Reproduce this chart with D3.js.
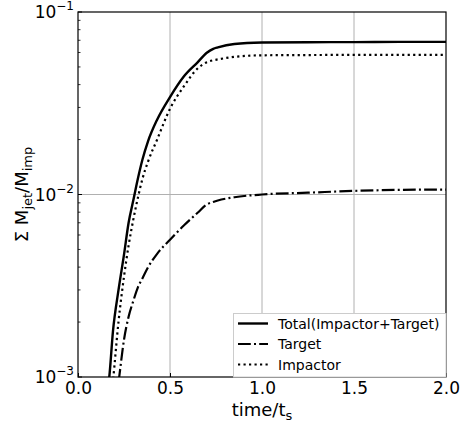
<!DOCTYPE html>
<html>
<head>
<meta charset="utf-8">
<script src="https://cdn.jsdelivr.net/npm/d3@7"></script>
<style>
  html, body { margin: 0; padding: 0; background: #fff; }
  svg { display: block; font-family: "DejaVu Sans", sans-serif; }
</style>
</head>
<body>
<svg id="chart" width="461" height="425"></svg>
<script>
// Cumulative jetted mass normalised by impactor mass, versus time/t_s
const time = [0.15, 0.17, 0.19, 0.22, 0.25, 0.275, 0.30, 0.325, 0.35, 0.38, 0.43, 0.50,
              0.575, 0.65, 0.70, 0.735, 0.76, 0.85, 1.0, 1.25, 1.5, 1.75, 2.0];
const totalMass = [0.00076, 0.00100, 0.00178, 0.00299, 0.00468, 0.00700, 0.00923, 0.01216,
                   0.0155, 0.0195, 0.0257, 0.0342, 0.0443, 0.0530, 0.0598, 0.0628, 0.0640,
                   0.0668, 0.0680, 0.0683, 0.0684, 0.0686, 0.0686];
const targetMass = [0.00025, 0.00040, 0.00056, 0.00093, 0.00160, 0.00214, 0.00260, 0.00309,
                    0.00347, 0.00398, 0.00473, 0.00565, 0.00676, 0.00794, 0.00881, 0.00910,
                    0.00927, 0.00966, 0.0100, 0.01023, 0.01047, 0.0106, 0.01064];
const impactorMass = [0.00040, 0.00063, 0.00095, 0.00200, 0.00355, 0.00525, 0.00724, 0.00955,
                      0.01216, 0.0151, 0.0200, 0.0295, 0.0391, 0.0490, 0.0531, 0.0544, 0.0550,
                      0.0568, 0.0579, 0.0581, 0.0582, 0.0582, 0.0582];
const xTicks = [0.0, 0.5, 1.0, 1.5, 2.0];
const yTickExponents = [-3, -2, -1];
const seriesNames = ["Total(Impactor+Target)", "Target", "Impactor"];

const svg = d3.select("#chart");
const m = { left: 78, right: 446, top: 12, bottom: 377 };

const x = d3.scaleLinear().domain([0, 2]).range([m.left, m.right]);
const y = d3.scaleLog().domain([1e-3, 1e-1]).range([m.bottom, m.top]);

// clip lines to plot area
svg.append("defs").append("clipPath").attr("id", "plotClip")
  .append("rect").attr("x", m.left).attr("y", m.top)
  .attr("width", m.right - m.left).attr("height", m.bottom - m.top);

// grid lines (major ticks only)
const grid = svg.append("g").attr("stroke", "#b0b0b0").attr("stroke-width", 1);
xTicks.slice(1, -1).forEach(t => {
  grid.append("line").attr("x1", x(t)).attr("x2", x(t))
    .attr("y1", m.top).attr("y2", m.bottom);
});
yTickExponents.slice(1, -1).forEach(e => {
  grid.append("line").attr("x1", m.left).attr("x2", m.right)
    .attr("y1", y(Math.pow(10, e))).attr("y2", y(Math.pow(10, e)));
});

// series lines
const line = vals => d3.line()
  .x((d, i) => x(time[i]))
  .y(d => y(d))
  .curve(d3.curveMonotoneX)(vals);

const styles = [
  { data: totalMass, dash: null, width: 2.4 },
  { data: targetMass, dash: "12.8,3.2,2,3.2", width: 2.2 },
  { data: impactorMass, dash: "2.2,3.3", width: 2.2 }
];
const lines = svg.append("g").attr("clip-path", "url(#plotClip)");
styles.forEach(s => {
  lines.append("path")
    .attr("d", line(s.data))
    .attr("fill", "none")
    .attr("stroke", "#000")
    .attr("stroke-width", s.width)
    .attr("stroke-dasharray", s.dash);
});

// axes frame
svg.append("rect").attr("x", m.left).attr("y", m.top)
  .attr("width", m.right - m.left).attr("height", m.bottom - m.top)
  .attr("fill", "none").attr("stroke", "#000").attr("stroke-width", 1.2);

// x axis ticks and labels
const xAxis = d3.axisBottom(x).tickValues(xTicks).tickFormat(d3.format(".1f"))
  .tickSizeInner(-4).tickSizeOuter(0).tickPadding(5);
const gx = svg.append("g").attr("transform", `translate(0,${m.bottom})`).call(xAxis);
gx.select(".domain").remove();
gx.selectAll("text").attr("font-size", 17).attr("fill", "#000")
  .attr("font-family", "DejaVu Sans");
gx.selectAll("line").attr("stroke", "#000");

// y axis: major ticks, minor ticks (log), labels with superscripts
const gy = svg.append("g");
yTickExponents.forEach(e => {
  const yy = y(Math.pow(10, e));
  gy.append("line").attr("x1", m.left).attr("x2", m.left + 4)
    .attr("y1", yy).attr("y2", yy).attr("stroke", "#000").attr("stroke-width", 1);
  const t = gy.append("text").attr("x", m.left - 4).attr("y", yy + 6)
    .attr("text-anchor", "end").attr("font-size", 17).attr("fill", "#000");
  t.append("tspan").text("10");
  t.append("tspan").attr("dy", -8).attr("font-size", 12).text("\u2212" + Math.abs(e));
});
[-3, -2].forEach(e => {
  for (let k = 2; k <= 9; k++) {
    const yy = y(k * Math.pow(10, e));
    gy.append("line").attr("x1", m.left).attr("x2", m.left + 2.5)
      .attr("y1", yy).attr("y2", yy).attr("stroke", "#000").attr("stroke-width", 0.8);
  }
});

// axis titles
const xl = svg.append("text").attr("x", (m.left + m.right) / 2).attr("y", 416)
  .attr("text-anchor", "middle").attr("font-size", 18).attr("fill", "#000");
xl.append("tspan").text("time/t");
xl.append("tspan").attr("dy", 4).attr("font-size", 13).text("s");

const yl = svg.append("text")
  .attr("transform", `translate(28,${(m.top + m.bottom) / 2}) rotate(-90)`)
  .attr("text-anchor", "middle").attr("font-size", 18).attr("fill", "#000");
yl.append("tspan").text("\u03A3 M");
yl.append("tspan").attr("dy", 4).attr("font-size", 13).text("jet");
yl.append("tspan").attr("dy", -4).text("/M");
yl.append("tspan").attr("dy", 4).attr("font-size", 13).text("imp");

// legend (drawn over the frame, lower right)
const lg = svg.append("g");
lg.append("rect").attr("x", 233.5).attr("y", 313.5).attr("width", 212.5).attr("height", 63.5)
  .attr("fill", "#fff").attr("stroke", "#cccccc").attr("stroke-width", 1);
const rowY = [323.5, 344, 364.5];
seriesNames.forEach((name, i) => {
  lg.append("line").attr("x1", 238).attr("x2", 268)
    .attr("y1", rowY[i]).attr("y2", rowY[i])
    .attr("stroke", "#000").attr("stroke-width", styles[i].width)
    .attr("stroke-dasharray", styles[i].dash);
  lg.append("text").attr("x", 278).attr("y", rowY[i] + 5)
    .attr("font-size", 14).attr("fill", "#000").text(name);
});
</script>
</body>
</html>
